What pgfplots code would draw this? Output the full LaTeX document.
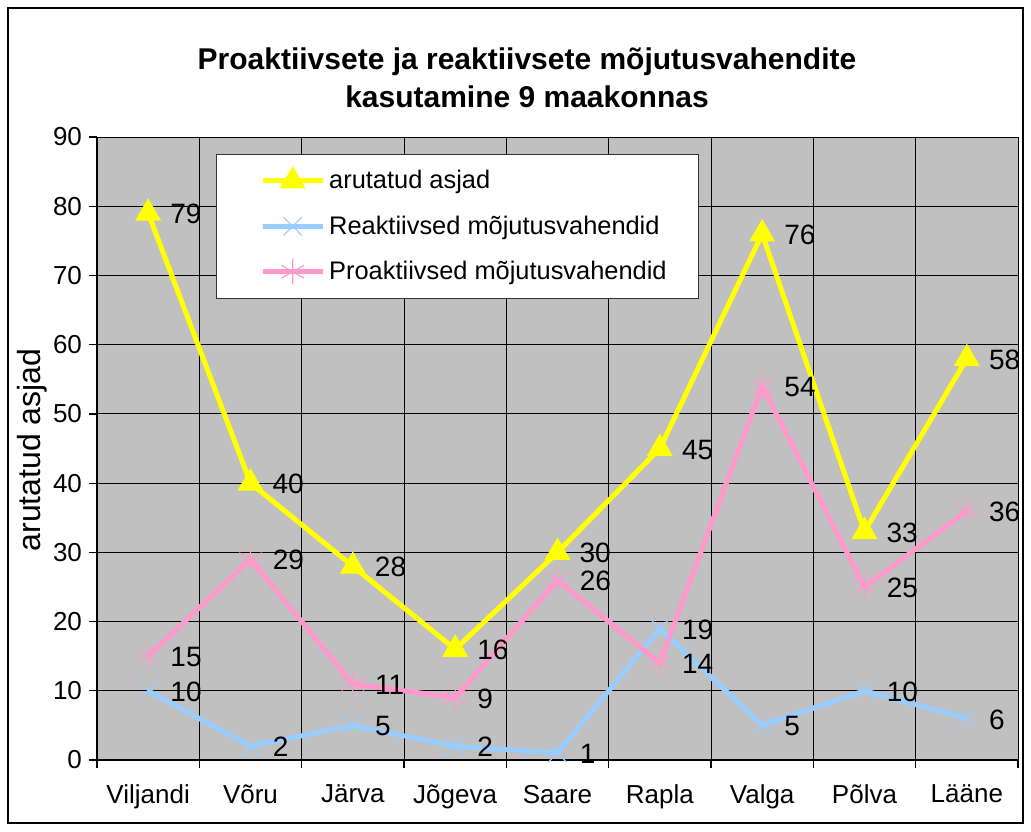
\documentclass[border=0pt]{standalone}
\usepackage{fontspec}
\setmainfont{Liberation Sans}
\usepackage{pgfplots}
\pgfplotsset{compat=1.18}
\definecolor{cyel}{HTML}{FFFF00}
\definecolor{cblue}{HTML}{99CCFF}
\definecolor{cpink}{HTML}{FF99CC}
\definecolor{plotbg}{HTML}{C0C0C0}
\newcommand{\lbl}{\fontsize{13}{15}\selectfont}
\begin{document}
\begin{tikzpicture}
% outer frame (1px = 0.5pt, axis corner at image pixel (97,760))
\path (-48.5pt,-35.5pt) rectangle (467pt,380pt);
\draw[black, line width=0.8pt] (-44.5pt,-31.5pt) rectangle (463pt,376pt);
\node[font=\bfseries\fontsize{15}{19}\selectfont, align=center] at (215pt,341pt)
  {Proaktiivsete ja reaktiivsete mõjutusvahendite\\kasutamine 9 maakonnas};
\begin{axis}[
    at={(0pt,0pt)}, anchor=south west,
    scale only axis,
    width=460.5pt, height=311.5pt,
    xmin=-0.5, xmax=8.5,
    ymin=0, ymax=90,
    clip=false,
    xtick={0,...,8},
    xticklabels={Viljandi,Võru,Järva,Jõgeva,Saare,Rapla,Valga,Põlva,Lääne},
    minor xtick={-0.5,0.5,...,8.5},
    ytick={0,10,...,90},
    xminorgrids, ymajorgrids,
    grid style={black, line width=0.5pt},
    minor grid style={black, line width=0.5pt},
    axis background/.style={fill=plotbg, draw=gray},
    axis x line*=bottom, axis y line*=left,
    axis line style={black, line width=0.8pt, -},
    tick align=outside,
    major tick length=4pt, minor tick length=4pt,
    major x tick style={draw=none},
    tick style={black, line width=0.6pt},
    /pgf/number format/assume math mode=true,
    ticklabel style={font=\lbl},
    xticklabel style={yshift=-5pt},
    ylabel={arutatud asjad},
    ylabel style={font=\fontsize{16}{18}\selectfont, at={(axis description cs:-0.0706,0.4976)}, anchor=center},
    every node near coord/.style={font=\fontsize{14}{16}\selectfont, text=black, anchor=west, xshift=7.5pt, yshift=-0.5pt},
    nodes near coords,
    legend style={at={(axis description cs:0.129,0.973)}, anchor=north west,
        font=\fontsize{12.7}{15}\selectfont, draw=black!80, fill=white, inner xsep=14pt, inner ysep=6pt,
        row sep=8pt, cells={anchor=west}},
    legend image code/.code={%
        \path (0pt,0pt);
        \draw[#1, mark repeat=2, mark phase=2] plot coordinates {(8pt,0pt) (23pt,0pt) (38pt,0pt)};},
]
\addplot[cyel, line width=2.5pt, mark=triangle*, mark size=7pt,
         mark options={solid, fill=cyel, draw=cyel, line width=0.5pt}]
 coordinates {(0,79) (1,40) (2,28) (3,16) (4,30) (5,45) (6,76) (7,33) (8,58)};
\addlegendentry{arutatud asjad}
\addplot[cblue, line width=2.5pt, mark=x, mark size=6.5pt,
         mark options={solid, line width=0.6pt}]
 coordinates {(0,10) (1,2) (2,5) (3,2) (4,1) (5,19) (6,5) (7,10) (8,6)};
\addlegendentry{Reaktiivsed mõjutusvahendid}
\addplot[cpink, line width=2.5pt, mark=asterisk, mark size=6.5pt,
         mark options={solid, line width=0.6pt}]
 coordinates {(0,15) (1,29) (2,11) (3,9) (4,26) (5,14) (6,54) (7,25) (8,36)};
\addlegendentry{Proaktiivsed mõjutusvahendid}
\end{axis}
\end{tikzpicture}
\end{document}
